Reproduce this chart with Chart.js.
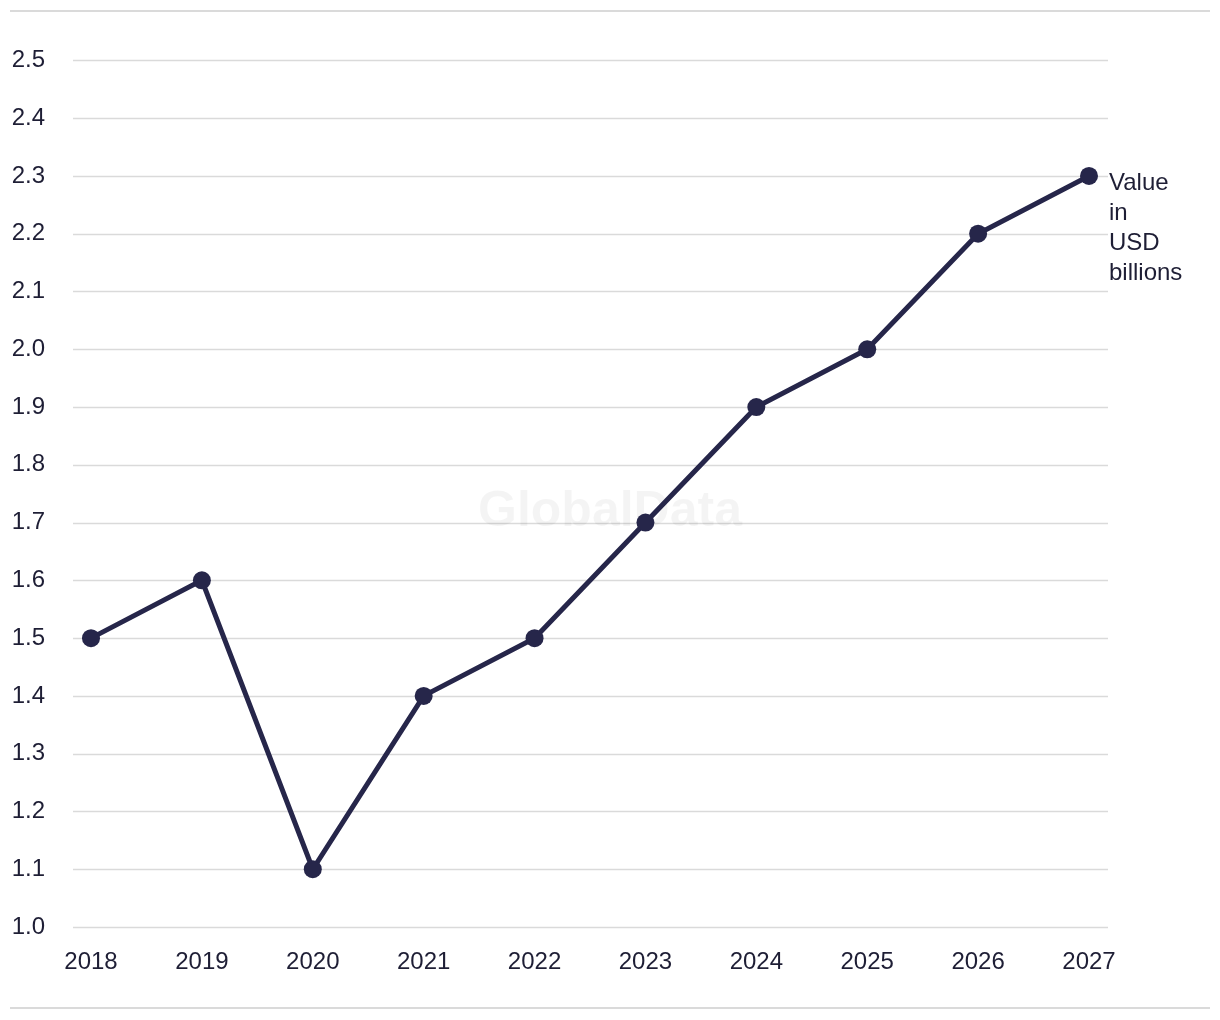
<!DOCTYPE html>
<html>
<head>
<meta charset="utf-8">
<script src="https://cdn.jsdelivr.net/npm/chart.js@4"></script>
<style>
  html, body { margin: 0; padding: 0; background: #fff; }
  #wrap { width: 1220px; height: 1020px; }
</style>
</head>
<body>
<div id="wrap"><canvas id="chart" width="1220" height="1020"></canvas></div>
<script>
const years = ["2018", "2019", "2020", "2021", "2022", "2023", "2024", "2025", "2026", "2027"];
const values = [1.5, 1.6, 1.1, 1.4, 1.5, 1.7, 1.9, 2.0, 2.2, 2.3];
const seriesLabel = ["Value", "in", "USD", "billions"];
const watermark = "GlobalData";

const lineColor = "#26264a";
const textColor = "#1e1e35";
const gridColor = "#dadada";
const fontFamily = "'Liberation Sans', Arial, sans-serif";

// grid lines that run a little past the first and last year, plus the frame rules
const gridPlugin = {
  id: "grid",
  beforeDatasetsDraw(chart) {
    const { ctx, scales } = chart;
    const y = scales.y;
    ctx.save();
    ctx.strokeStyle = gridColor;
    ctx.lineWidth = 1.5;
    y.ticks.forEach((t) => {
      const py = Math.round(y.getPixelForValue(t.value)) + 0.5;
      ctx.beginPath();
      ctx.moveTo(73, py);
      ctx.lineTo(1108, py);
      ctx.stroke();
    });
    ctx.lineWidth = 2;
    ctx.beginPath();
    ctx.moveTo(10, 11);
    ctx.lineTo(1210, 11);
    ctx.moveTo(10, 1008);
    ctx.lineTo(1210, 1008);
    ctx.stroke();

    ctx.fillStyle = "rgba(0,0,0,0.045)";
    ctx.font = "bold 50px " + fontFamily;
    ctx.textAlign = "center";
    ctx.textBaseline = "middle";
    ctx.fillText(watermark, 610, 512);
    ctx.restore();
  },
};

// series label next to the last point
const endLabel = {
  id: "endLabel",
  afterDatasetsDraw(chart) {
    const { ctx } = chart;
    const pts = chart.getDatasetMeta(0).data;
    const last = pts[pts.length - 1];
    ctx.save();
    ctx.fillStyle = textColor;
    ctx.font = "24px " + fontFamily;
    ctx.textAlign = "left";
    ctx.textBaseline = "middle";
    seriesLabel.forEach((s, i) => {
      ctx.fillText(s, last.x + 20, last.y + 7 + i * 30);
    });
    ctx.restore();
  },
};

new Chart(document.getElementById("chart"), {
  type: "line",
  data: {
    labels: years,
    datasets: [
      {
        label: "Value in USD billions",
        data: values,
        borderColor: lineColor,
        backgroundColor: lineColor,
        borderWidth: 5,
        pointRadius: 9,
        pointBorderWidth: 0,
        pointBackgroundColor: lineColor,
        tension: 0,
      },
    ],
  },
  options: {
    responsive: false,
    animation: false,
    layout: { padding: { top: 59, right: 131, left: 0, bottom: 0 } },
    plugins: { legend: { display: false }, tooltip: { enabled: false } },
    scales: {
      x: {
        offset: false,
        grid: { display: false, drawTicks: false },
        border: { display: false },
        ticks: {
          color: textColor,
          font: { family: fontFamily, size: 24 },
          padding: 21,
          maxRotation: 0,
        },
        afterFit(scale) {
          scale.height = 93;
        },
      },
      y: {
        min: 1.0,
        max: 2.5,
        grid: { display: false, drawTicks: false },
        border: { display: false },
        ticks: {
          stepSize: 0.1,
          color: textColor,
          font: { family: fontFamily, size: 24 },
          padding: 46,
          callback: (v) => Number(v).toFixed(1),
        },
        afterFit(scale) {
          scale.width = 91;
        },
      },
    },
  },
  plugins: [gridPlugin, endLabel],
});
</script>
</body>
</html>
